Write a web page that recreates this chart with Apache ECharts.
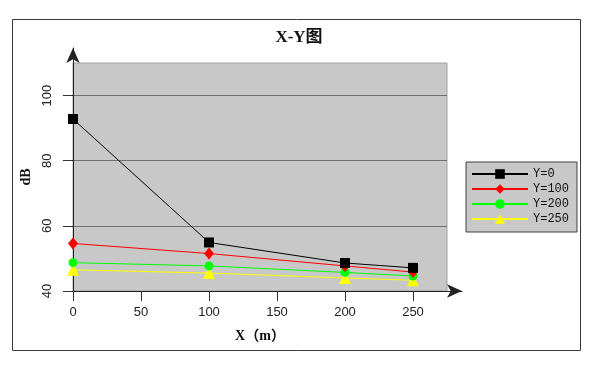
<!DOCTYPE html>
<html>
<head>
<meta charset="utf-8">
<script src="https://cdn.jsdelivr.net/npm/echarts@6/dist/echarts.min.js"></script>
<style>html,body{margin:0;padding:0;background:#fff}#c{width:593px;height:368px}</style>
</head>
<body>
<div id="c"></div>
<script>
var xValues = [0, 100, 200, 250];
var seriesNames = ['Y=0', 'Y=100', 'Y=200', 'Y=250'];
var y0 = [92.8, 54.9, 48.6, 47.1];
var y100 = [54.6, 51.5, 47.7, 45.8];
var y200 = [48.7, 47.7, 45.7, 44.6];
var y250 = [46.5, 45.5, 44.0, 43.3];
var xTicks = [0, 50, 100, 150, 200, 250];
var yTicks = [40, 60, 80, 100];

var allY = [y0, y100, y200, y250];
var colors = ['#000000', '#ff0000', '#00ff00', '#ffff00'];
var symbols = ['rect', 'diamond', 'circle', 'triangle'];
var symbolSizes = [10, [10, 12], 9, 12];

function pairs(ys) { return xValues.map(function (x, i) { return [x, ys[i]]; }); }

var chart = echarts.init(document.getElementById('c'), null, { renderer: 'canvas' });
var serif = "'Liberation Serif', 'Noto Sans CJK SC', serif";
var arrowLine = { show: true, lineStyle: { color: '#222', width: 1 }, symbol: ['none', 'arrow'], symbolSize: [10, 15], symbolOffset: [0, 0] };
chart.setOption({
  animation: false,
  title: {
    text: 'X-Y图', left: 294, top: 24, textAlign: 'center',
    textStyle: { fontFamily: serif, fontWeight: 'bold', fontSize: 17, color: '#111' }
  },
  graphic: [{
    type: 'rect', shape: { x: 12.5, y: 19.5, width: 568, height: 331 },
    style: { fill: 'none', stroke: '#3a3a3a', lineWidth: 1 }, z: -1
  }],
  legend: {
    left: 466, top: 162, orient: 'vertical',
    padding: [6, 8, 7, 5],
    backgroundColor: '#c8c8c8', borderColor: '#404040', borderWidth: 1,
    itemWidth: 56, itemHeight: 12, itemGap: 3,
    textStyle: { fontFamily: "'Liberation Mono', monospace", fontSize: 12, color: '#111', lineHeight: 12 },
    data: seriesNames
  },
  grid: [{
    left: 73, right: 146, top: 63, bottom: 77,
    show: true, backgroundColor: '#c8c8c8', borderColor: '#a0a0a0', borderWidth: 1
  }, {
    left: 73, right: 131, top: 48, bottom: 77, show: false
  }],
  xAxis: [{
    type: 'value', min: 0, max: 275, interval: 50,
    name: 'X（m）', nameLocation: 'middle', nameGap: 38,
    nameTextStyle: { fontFamily: serif, fontWeight: 'bold', fontSize: 14, color: '#111' },
    axisLine: { show: true, lineStyle: { color: '#222', width: 1 } },
    axisTick: { show: true, length: 10, lineStyle: { color: '#333' }, customValues: xTicks },
    axisLabel: { margin: 15, fontFamily: "'Liberation Sans', Arial, sans-serif", fontSize: 13, color: '#222', customValues: xTicks },
    splitLine: { show: false }
  }, {
    type: 'value', gridIndex: 1, min: 0, max: 1,
    axisLine: arrowLine, axisTick: { show: false }, axisLabel: { show: false }, splitLine: { show: false }
  }],
  yAxis: [{
    type: 'value', min: 40, max: 110, interval: 20,
    name: 'dB', nameLocation: 'middle', nameGap: 32, nameRotate: 90,
    nameTextStyle: { fontFamily: serif, fontWeight: 'bold', fontSize: 14, color: '#111' },
    axisLine: { show: true, lineStyle: { color: '#222', width: 1 } },
    axisTick: { show: true, length: 10, lineStyle: { color: '#333' }, customValues: yTicks },
    axisLabel: { margin: 19, rotate: 90, fontFamily: "'Liberation Sans', Arial, sans-serif", fontSize: 13, color: '#222', customValues: yTicks },
    splitLine: { show: true, lineStyle: { color: '#707070', width: 1 } }
  }, {
    type: 'value', gridIndex: 1, min: 0, max: 1,
    axisLine: arrowLine, axisTick: { show: false }, axisLabel: { show: false }, splitLine: { show: false }
  }],
  series: allY.map(function (ys, i) {
    return {
      name: seriesNames[i], type: 'line', data: pairs(ys),
      symbol: symbols[i], symbolSize: symbolSizes[i], showAllSymbol: true,
      itemStyle: { color: colors[i] },
      lineStyle: { color: colors[i], width: 1 },
      z: 10 - i
    };
  })
});
</script>
</body>
</html>
